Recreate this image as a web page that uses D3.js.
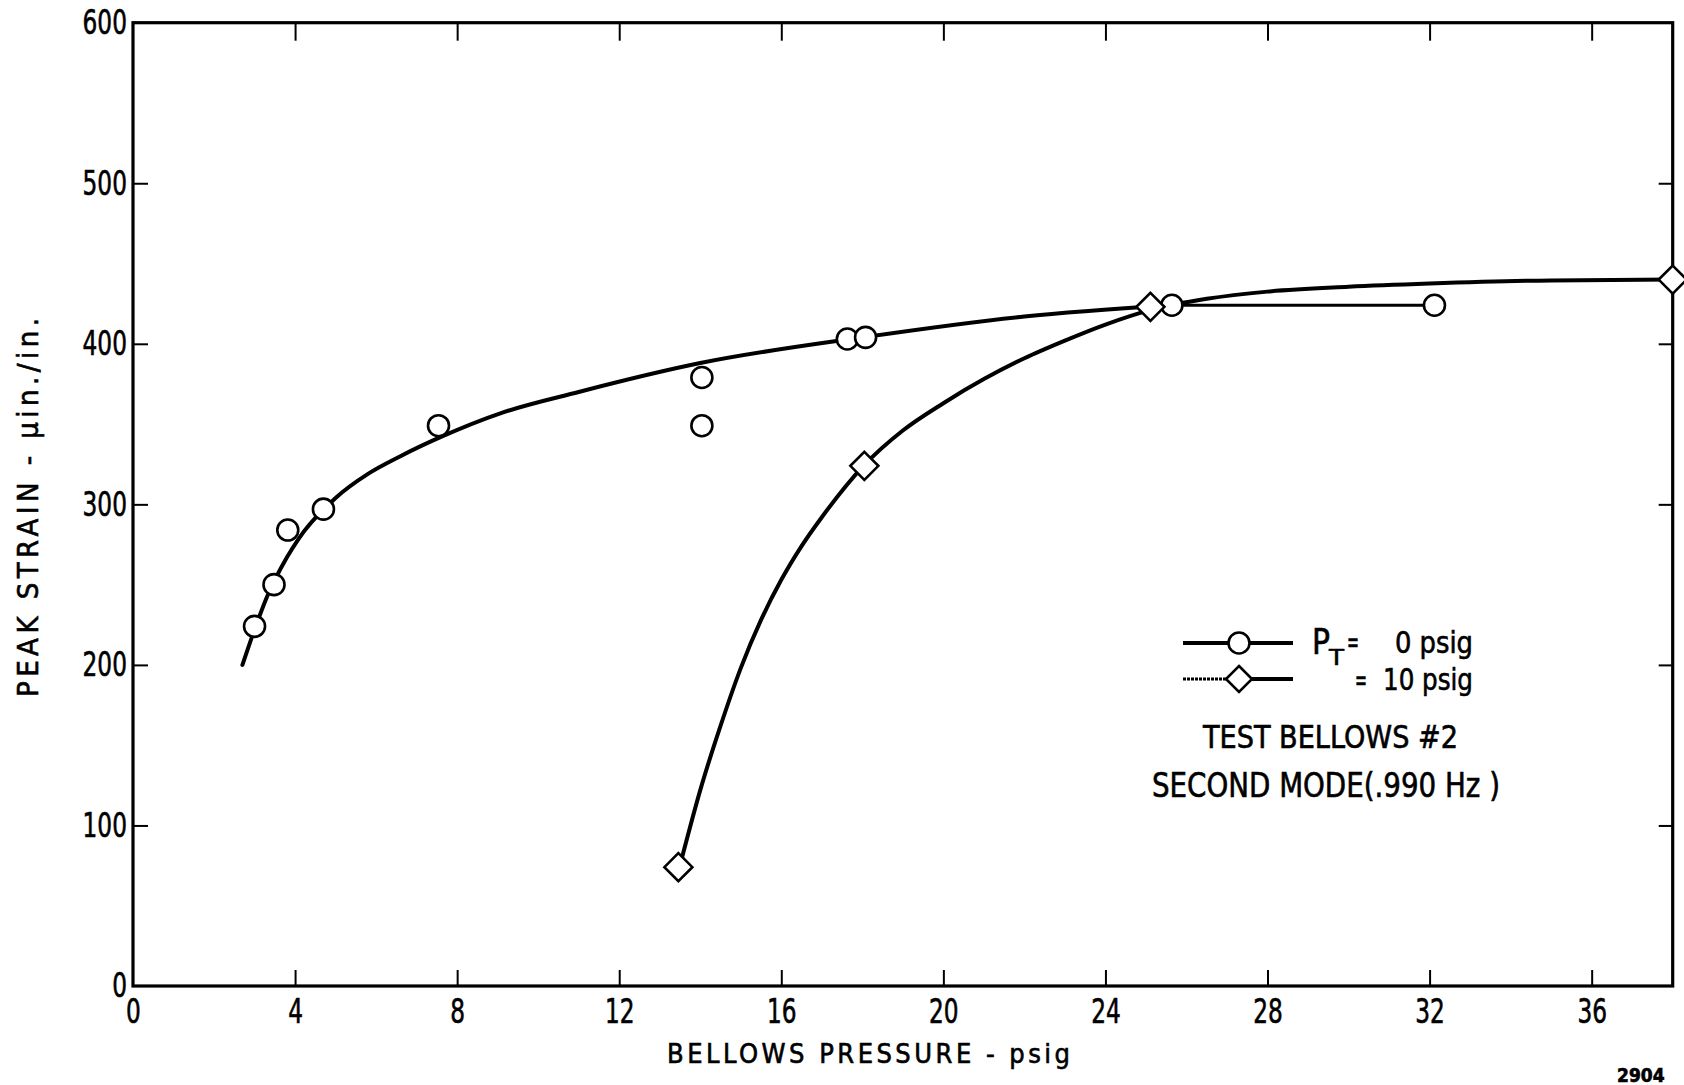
<!DOCTYPE html>
<html>
<head>
<meta charset="utf-8">
<script src="https://cdn.jsdelivr.net/npm/d3@7/dist/d3.min.js"></script>
<style>
  html, body { margin: 0; padding: 0; background: #fff; }
  svg { display: block; }
  text { font-family: "DejaVu Sans Condensed", "DejaVu Sans", sans-serif; font-stretch: condensed; fill: #000; stroke: #000; stroke-width: 0.6px; }
</style>
</head>
<body>
<script>
// ---- Data ----
const xTickValues = [0, 4, 8, 12, 16, 20, 24, 28, 32, 36];
const yTickValues = [0, 100, 200, 300, 400, 500, 600];

// P_T = 0 psig : measured points (circles)
const pt0X = [3.0, 3.48, 3.82, 4.70, 7.54, 14.04, 14.04, 17.63, 18.08, 25.64, 32.12];
const pt0Y = [224, 250, 284, 297, 349, 379, 349, 403, 404, 424, 424];
// P_T = 0 psig : faired curve and straight run-out
const fit0X = [2.7, 3.0, 3.3, 3.8, 4.1, 5.0, 5.8, 6.6, 7.6, 9.1, 11, 14, 18, 22, 25.6];
const fit0Y = [200, 222, 242, 267, 279, 304, 319, 330, 342, 357, 370, 388, 404, 417, 424];
const run0X = [25.6, 32.1];
const run0Y = [424, 424];

// P_T = 10 psig : measured points (diamonds)
const pt10X = [13.46, 18.05, 25.11, 38.0];
const pt10Y = [74, 324, 423, 440];
// P_T = 10 psig : faired curve
const fit10X = [13.55, 14.0, 14.5, 15.0, 15.5, 16.0, 16.5, 17.0, 18.03, 19.0, 20.0, 21.0, 22.0, 23.0, 24.0, 25.1, 26.5, 28, 30, 32, 35, 38];
const fit10Y = [80, 122, 162, 198, 228, 253, 274, 292, 324, 346, 363, 378, 391, 402, 412, 421, 428, 432.5, 435.5, 437.5, 439.5, 440];

// ---- Layout ----
const W = 1684, H = 1085;
const mLeft = 133, mRight = 1672.7, mTop = 22.7, mBottom = 986;

const svg = d3.select("body").append("svg").attr("width", W).attr("height", H);
svg.append("rect").attr("width", W).attr("height", H).attr("fill", "#fff");

const x = d3.scaleLinear().domain([0, 38]).range([mLeft, mRight]);
const y = d3.scaleLinear().domain([0, 600]).range([mBottom, mTop]);

const fontTick = 34;
const squeeze = "scale(0.76,1)";

// Bottom axis with labels
const gB = svg.append("g").attr("transform", `translate(0,${mBottom})`)
  .call(d3.axisBottom(x).tickValues(xTickValues).tickSize(-16).tickPadding(13).tickFormat(d3.format("d")));
gB.select(".domain").remove();
gB.selectAll("text").attr("font-size", fontTick).attr("font-family", null).attr("transform", squeeze);
gB.selectAll("line").attr("stroke-width", 2).filter(d => d === 0).remove();

// Top axis (ticks only)
const gT = svg.append("g").attr("transform", `translate(0,${mTop})`)
  .call(d3.axisTop(x).tickValues(xTickValues.filter(d => d > 0)).tickSize(-18).tickFormat(""));
gT.select(".domain").remove();
gT.selectAll("line").attr("stroke-width", 2);

// Left axis with labels
const gL = svg.append("g").attr("transform", `translate(${mLeft},0)`)
  .call(d3.axisLeft(y).tickValues(yTickValues).tickSize(-15).tickPadding(8).tickFormat(d3.format("d")));
gL.select(".domain").remove();
gL.selectAll("text").attr("font-size", fontTick).attr("font-family", null).attr("transform", squeeze);
gL.selectAll("line").attr("stroke-width", 2).filter(d => d === 0 || d === 600).remove();

// Right axis (ticks only)
const gR = svg.append("g").attr("transform", `translate(${mRight},0)`)
  .call(d3.axisRight(y).tickValues(yTickValues.filter(d => d > 0 && d < 600)).tickSize(-14).tickFormat(""));
gR.select(".domain").remove();
gR.selectAll("line").attr("stroke-width", 2);

// Frame
svg.append("rect")
  .attr("x", mLeft).attr("y", mTop)
  .attr("width", mRight - mLeft).attr("height", mBottom - mTop)
  .attr("fill", "none").attr("stroke", "#000").attr("stroke-width", 3.2);

// Curves
const zip = (a, b) => a.map((v, i) => [v, b[i]]);
const curve = d3.line().x(d => x(d[0])).y(d => y(d[1])).curve(d3.curveMonotoneX);
const straight = d3.line().x(d => x(d[0])).y(d => y(d[1]));

svg.append("path").attr("d", curve(zip(fit0X, fit0Y))).attr("fill", "none")
  .attr("stroke", "#000").attr("stroke-width", 4).attr("stroke-linecap", "round");
svg.append("path").attr("d", straight(zip(run0X, run0Y))).attr("fill", "none")
  .attr("stroke", "#000").attr("stroke-width", 3);
svg.append("path").attr("d", curve(zip(fit10X, fit10Y))).attr("fill", "none")
  .attr("stroke", "#000").attr("stroke-width", 4).attr("stroke-linecap", "round");

// Markers
const diamondPath = s => `M0,${-s}L${s},0L0,${s}L${-s},0Z`;

svg.append("g").selectAll("circle")
  .data(zip(pt0X, pt0Y))
  .join("circle")
  .attr("cx", d => x(d[0])).attr("cy", d => y(d[1])).attr("r", 10.5)
  .attr("fill", "#fff").attr("stroke", "#000").attr("stroke-width", 2.6);

svg.append("g").selectAll("path")
  .data(zip(pt10X, pt10Y))
  .join("path")
  .attr("transform", d => `translate(${x(d[0])},${y(d[1])})`)
  .attr("d", diamondPath(14))
  .attr("fill", "#fff").attr("stroke", "#000").attr("stroke-width", 2.6);

// Legend
const lg = svg.append("g");
lg.append("line").attr("x1", 1183).attr("x2", 1293).attr("y1", 643).attr("y2", 643)
  .attr("stroke", "#000").attr("stroke-width", 3.8);
lg.append("circle").attr("cx", 1239).attr("cy", 643).attr("r", 10.5)
  .attr("fill", "#fff").attr("stroke", "#000").attr("stroke-width", 2.6);
lg.append("line").attr("x1", 1183).attr("x2", 1228).attr("y1", 679).attr("y2", 679)
  .attr("stroke", "#000").attr("stroke-width", 2.8).attr("stroke-dasharray", "3,1");
lg.append("line").attr("x1", 1250).attr("x2", 1293).attr("y1", 679).attr("y2", 679)
  .attr("stroke", "#000").attr("stroke-width", 3.8);
lg.append("path").attr("transform", "translate(1239,679)").attr("d", diamondPath(13))
  .attr("fill", "#fff").attr("stroke", "#000").attr("stroke-width", 2.6);

const fitText = (sel, len) => sel.attr("textLength", len).attr("lengthAdjust", "spacingAndGlyphs");

fitText(lg.append("text").attr("x", 1312).attr("y", 654).attr("font-size", 35).text("P"), 18);
fitText(lg.append("text").attr("x", 1329).attr("y", 665).attr("font-size", 22).text("T"), 15);
fitText(lg.append("text").attr("x", 1347).attr("y", 652).attr("font-size", 30).text("="), 12);
fitText(lg.append("text").attr("x", 1395).attr("y", 653).attr("font-size", 31).text("0 psig"), 78);
fitText(lg.append("text").attr("x", 1355).attr("y", 690).attr("font-size", 30).text("="), 12);
fitText(lg.append("text").attr("x", 1383).attr("y", 690).attr("font-size", 31).text("10 psig"), 90);

fitText(lg.append("text").attr("x", 1203).attr("y", 748).attr("font-size", 32).text("TEST BELLOWS #2"), 255);
fitText(lg.append("text").attr("x", 1152).attr("y", 797).attr("font-size", 33).text("SECOND MODE(.990 Hz )"), 348);

// Axis titles
svg.append("text").attr("x", 667).attr("y", 1063).attr("font-size", 27)
  .attr("textLength", 403).attr("lengthAdjust", "spacing").text("BELLOWS PRESSURE - psig");
svg.append("text").attr("transform", "translate(38,697) rotate(-90)").attr("font-size", 29)
  .attr("textLength", 379).attr("lengthAdjust", "spacing").text("PEAK STRAIN - µin./in.");

// Figure number
svg.append("text").attr("x", 1617).attr("y", 1082).attr("font-size", 19).attr("font-weight", "bold").text("2904");
</script>
</body>
</html>
